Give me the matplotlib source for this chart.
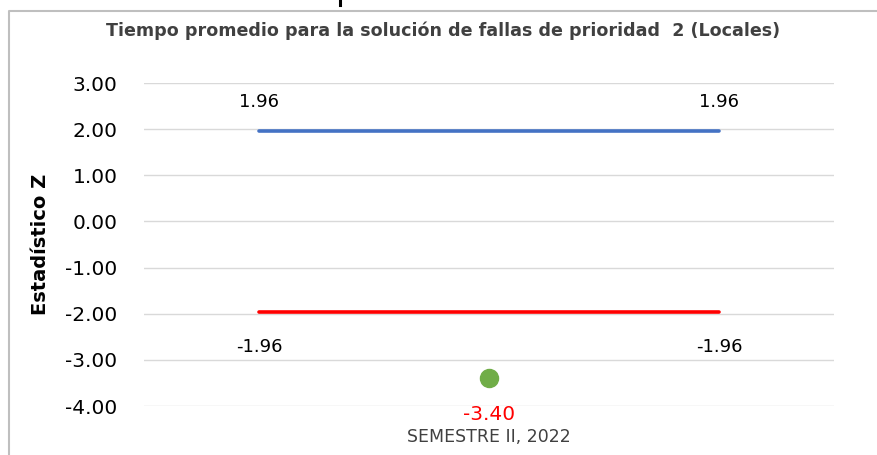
import matplotlib.pyplot as plt
from matplotlib.lines import Line2D

# data
x_limits = [1, 3]
upper = [1.96, 1.96]
lower = [-1.96, -1.96]
z_x = [2]
z_val = [-3.40]
category = "SEMESTRE II, 2022"
yticks = [3, 2, 1, 0, -1, -2, -3, -4]

W, H = 878, 455
fig = plt.figure(figsize=(W / 100, H / 100), dpi=100)
ax = fig.add_axes([144 / W, 1 - 406 / H, 690 / W, 323 / H])

ax.plot(x_limits, upper, color='#4472C4', lw=2.6, solid_capstyle='round', zorder=3)
ax.plot(x_limits, lower, color='#FF0000', lw=2.6, solid_capstyle='round', zorder=3)
ax.plot(z_x, z_val, 'o', color='#70AD47', ms=13, zorder=4)

for xx, yy in zip(x_limits, upper):
    ax.annotate(f"{yy:.2f}", (xx, yy), xytext=(0, 21), textcoords='offset points',
                ha='center', va='center', fontsize=13, color='black')
for xx, yy in zip(x_limits, lower):
    ax.annotate(f"{yy:.2f}", (xx, yy), xytext=(0, -25), textcoords='offset points',
                ha='center', va='center', fontsize=13, color='black')
for xx, yy in zip(z_x, z_val):
    ax.annotate(f"{yy:.2f}", (xx, yy), xytext=(0, -26), textcoords='offset points',
                ha='center', va='center', fontsize=14.5, color='#FF0000',
                annotation_clip=False)

ax.set_xlim(0.5, 3.5)
ax.set_ylim(-4, 3)
ax.set_yticks(yticks)
ax.set_yticklabels([f"{t:.2f}" for t in yticks])
ax.tick_params(axis='y', length=0, labelsize=14.5, pad=19)
ax.set_xticks([])
ax.grid(axis='y', color='#D9D9D9', lw=1)
ax.set_axisbelow(True)
for s in ax.spines.values():
    s.set_visible(False)

ax.set_ylabel("Estadístico Z", fontsize=14, fontweight='bold')
ax.yaxis.set_label_coords(-0.136, 0.5)

fig.text(489 / W, 1 - 437 / H, category, ha='center', va='center',
         fontsize=12.5, color='#404040')
fig.text(443 / W, 1 - 31 / H,
         "Tiempo promedio para la solución de fallas de prioridad  2 (Locales)",
         ha='center', va='center', fontsize=12.6, fontweight='bold', color='#404040')

# chart frame and cut-off glyph at top
fig.add_artist(Line2D([9 / W, 9 / W, 1], [0, 1 - 11 / H, 1 - 11 / H],
                      transform=fig.transFigure, color='#BFBFBF', lw=1.5))
fig.add_artist(Line2D([340.5 / W, 340.5 / W], [1, 1 - 5 / H],
                      transform=fig.transFigure, color='black', lw=2.2))

fig.savefig('out.png', dpi=100)
